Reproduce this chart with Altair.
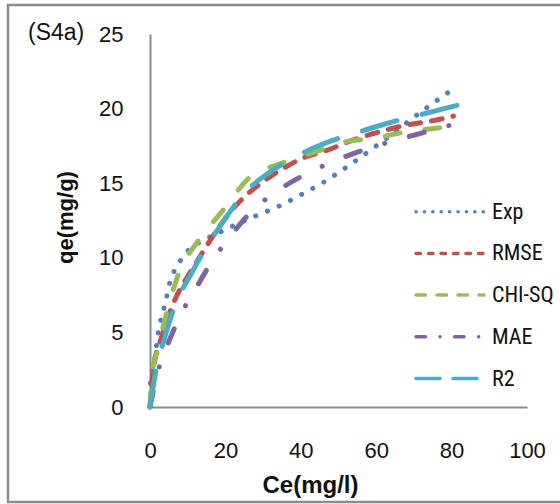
import altair as alt
import pandas as pd

# Equilibrium data (Exp) and the four fitted isotherm curves
series_names = ["Exp", "RMSE", "CHI-SQ", "MAE", "R2"]

exp_ce = [0.1, 1.3, 2.2, 4.2, 5.3, 6.6, 8.6, 11.0, 13.7, 20.0, 28.0, 34.5, 40.6, 46.9, 52.8, 58.4, 63.7, 72.0, 80.3]
exp_qe = [1.6, 3.35, 5.0, 7.1, 8.4, 9.2, 10.0, 10.7, 11.1, 11.9, 12.8, 13.5, 14.3, 15.2, 16.2, 17.2, 18.2, 19.8, 21.3]

rmse_ce = [0, 0.9, 3.1, 6.2, 10.6, 13.3, 16.8, 20.8, 23.9, 30.0, 35.4, 40.7, 46.9, 53.9, 61.0, 68.1, 75.2, 80.5]
rmse_qe = [0, 2.5, 4.7, 6.95, 9.0, 10.1, 11.5, 12.9, 13.8, 15.1, 16.0, 16.7, 17.2, 17.9, 18.45, 18.9, 19.2, 19.5]

chi_ce = [0, 0.45, 2.2, 4.4, 8.0, 12.4, 19.4, 26.5, 34.5, 45.1, 52.2, 59.2, 68.1, 73.0, 82.2]
chi_qe = [0, 2.0, 4.0, 6.3, 9.2, 11.0, 13.2, 15.4, 16.3, 17.2, 17.8, 18.0, 18.45, 18.6, 18.9]

mae_ce = [0, 2.0, 4.4, 8.8, 11.9, 16.4, 21.2, 26.5, 32.7, 39.8, 49.5, 57.5, 65.4, 73.4, 82.7]
mae_qe = [0, 2.3, 4.0, 6.5, 7.84, 9.74, 11.4, 13.0, 14.3, 15.4, 16.55, 17.3, 17.9, 18.45, 19.1]

r2_ce = [0, 1.8, 3.5, 6.2, 11.5, 20.3, 23.9, 32.7, 38.0, 47.7, 57.5, 62.8, 73.4, 82.7]
r2_qe = [0, 2.7, 4.3, 6.5, 9.2, 12.75, 14.0, 15.9, 16.7, 17.8, 18.6, 19.0, 19.7, 20.3]

x_ticks = [0, 20, 40, 60, 80, 100]
y_ticks = [0, 5, 10, 15, 20, 25]

colors = ["#4F81BD", "#C0504D", "#9BBB59", "#8064A2", "#4BACC6"]
# dash patterns for the plotted curves and the (thinner) legend keys
dashes = [[0.1, 12.6], [11, 11], [15, 25], [15.5, 25.5, 0.1, 25.5], [36, 26]]
key_dashes = [[0.1, 8.3], [4.5, 8], [9.5, 11.5], [9.5, 14.5, 0.1, 14.5], [24, 13]]

frames = []
for name, xs, ys in [
    ("Exp", exp_ce, exp_qe),
    ("RMSE", rmse_ce, rmse_qe),
    ("CHI-SQ", chi_ce, chi_qe),
    ("MAE", mae_ce, mae_qe),
    ("R2", r2_ce, r2_qe),
]:
    frames.append(pd.DataFrame({"series": name, "Ce": xs, "qe": ys, "order": range(len(xs))}))
df = pd.concat(frames, ignore_index=True)

FONT = "Liberation Sans, Arial, sans-serif"
KEY_FONT = "Roboto Condensed, Liberation Sans, sans-serif"

lines = alt.Chart(df).mark_line(
    strokeWidth=5, strokeCap="round", strokeJoin="round", interpolate="monotone"
).encode(
    x=alt.X(
        "Ce:Q",
        scale=alt.Scale(domain=[0, 100], nice=False),
        axis=alt.Axis(
            values=x_ticks,
            title="Ce(mg/l)",
            titleX=160,
            titleY=78,
            titleBaseline="middle",
            titleAlign="center",
            titleFontSize=24,
            labelBaseline="middle",
            labelPadding=43,
            labelFlush=False,
        ),
    ),
    y=alt.Y(
        "qe:Q",
        scale=alt.Scale(domain=[0, 25], nice=False),
        axis=alt.Axis(
            values=y_ticks,
            title="qe(mg/g)",
            titleX=-85,
            titleY=183,
            titleAngle=-90,
            titleBaseline="middle",
            titleAlign="center",
            titleFontSize=22,
            labelPadding=27,
            labelFlush=False,
        ),
    ),
    color=alt.Color("series:N", scale=alt.Scale(domain=series_names, range=colors), legend=None),
    strokeDash=alt.StrokeDash("series:N", scale=alt.Scale(domain=series_names, range=dashes), legend=None),
    order="order:Q",
)

# legend keys drawn inside the plot area, one row per series
key_layers = []
for i, (name, col, kd) in enumerate(zip(series_names, colors, key_dashes)):
    row_y = 177.7 + i * 41.7
    key_layers.append(
        alt.Chart(alt.Data(values=[{"s": name}])).mark_rule(
            color=col, strokeWidth=3.5, strokeDash=kd, strokeCap="round"
        ).encode(x=alt.value(266), x2=alt.value(334), y=alt.value(row_y))
    )
    key_layers.append(
        alt.Chart(alt.Data(values=[{"s": name}])).mark_text(
            align="left", baseline="middle", font=KEY_FONT, fontSize=22, color="#111111"
        ).encode(x=alt.value(342), y=alt.value(row_y), text="s:N")
    )

panel_label = alt.Chart(alt.Data(values=[{"t": "(S4a)"}])).mark_text(
    align="left", baseline="middle", font=FONT, fontSize=23, color="#111111"
).encode(x=alt.value(-122), y=alt.value(-1), text="t:N")

frame = alt.Chart(alt.Data(values=[{}])).mark_rect(
    fill=None, stroke="#8c8c8c", strokeWidth=2.5, clip=False
).encode(x=alt.value(-142), x2=alt.value(420), y=alt.value(-29), y2=alt.value(468))

chart = alt.layer(frame, lines, *key_layers, panel_label).properties(
    width=377,
    height=373,
    autosize=alt.AutoSizeParams(type="none"),
    padding={"left": 150, "top": 34, "right": 33, "bottom": 97},
).configure_view(
    stroke=None
).configure_axis(
    grid=False,
    ticks=False,
    tickSize=0,
    domainColor="#8a8a8a",
    domainWidth=2,
    labelFont=FONT,
    labelFontSize=22,
    labelColor="#111111",
    titleFont=FONT,
    titleFontWeight="bold",
    titleColor="#111111",
)

chart.save("out.html", embed_options={"renderer": "svg", "actions": False})
